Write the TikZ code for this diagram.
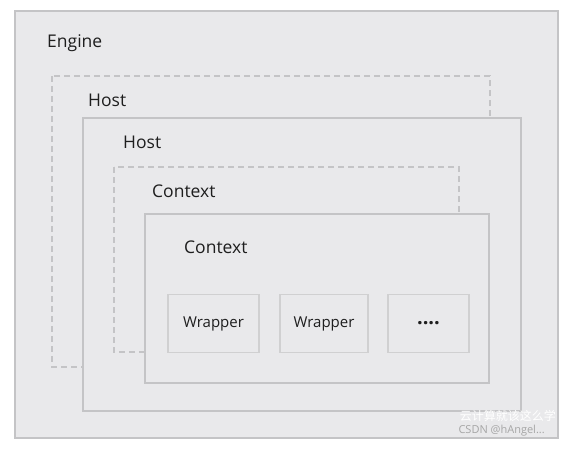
\documentclass[tikz,border=0pt]{standalone}
\usepackage{fontspec}
\setmainfont{Open Sans}
\newfontfamily\cjk{Noto Sans CJK SC}
\definecolor{bgc}{HTML}{E9E9EB}
\definecolor{edge}{HTML}{C4C4C6}
\definecolor{txt}{HTML}{1E1E1E}
\begin{document}
\begin{tikzpicture}[x=1pt,y=-1pt,
  solidbox/.style={draw=edge,line width=1.4pt,fill=bgc},
  dashbox/.style={draw=edge,line width=1.4pt,dashed,dash pattern=on 6pt off 4pt},
  lbl/.style={anchor=west,text=txt,font=\fontsize{17.5}{20}\selectfont,inner sep=0pt},
  wrap/.style={draw=edge!80,line width=1.2pt,fill=bgc,text=txt,font=\fontsize{15}{18}\selectfont}]
\useasboundingbox (0,0) rectangle (576,448);
\fill[white] (0,0) rectangle (576,448);
\draw[solidbox] (15,11) rectangle (558,438);
\node[lbl] (engine) at (47,43) {Engine};
\draw[dashbox] (52,76) rectangle (490,367);
\node[lbl] (host1) at (88,100) {Host};
\draw[solidbox] (83,118) rectangle (521,411);
\node[lbl] (host2) at (123,142) {Host};
\draw[dashbox] (114,167) rectangle (459,352);
\node[lbl] (ctx1) at (152,191) {Context};
\draw[solidbox] (145,214) rectangle (489,383);
\node[lbl] (ctx2) at (184,247) {Context};
\node[wrap,minimum width=91pt,minimum height=58pt] (w1) at (213.5,323.5) {Wrapper};
\node[wrap,minimum width=88pt,minimum height=58pt] (w2) at (324,323.5) {Wrapper};
\node[wrap,minimum width=81pt,minimum height=58pt,font=\fontsize{20}{20}\selectfont\bfseries] (w3) at (428.5,323.5) {\raisebox{-1pt}{....}};
\node[anchor=east,text=white,font=\cjk\fontsize{12}{14}\selectfont,inner sep=0pt] (wm1) at (556,416) {云计算就该这么学};
\node[anchor=east,text=gray!70,font=\fontsize{11}{13}\selectfont,inner sep=0pt] (wm2) at (545,431) {CSDN @hAngel...};
\end{tikzpicture}
\end{document}
